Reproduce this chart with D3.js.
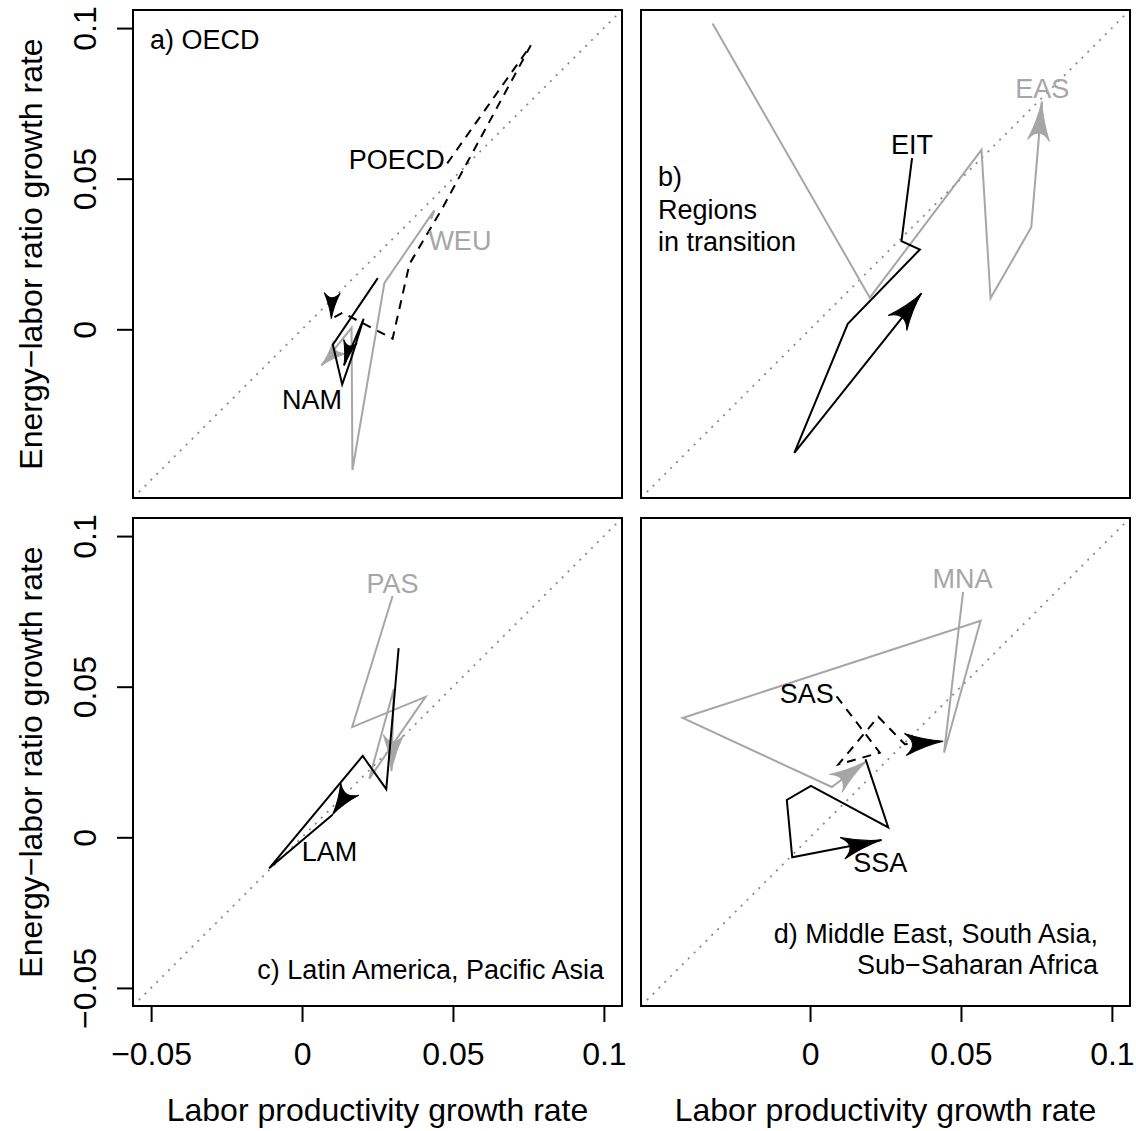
<!DOCTYPE html>
<html>
<head>
<meta charset="utf-8">
<script src="https://cdn.jsdelivr.net/npm/d3@7"></script>
<style>
body { margin: 0; background: #fff; }
text { font-family: "Liberation Sans", Arial, Helvetica, sans-serif; }
</style>
</head>
<body>
<svg width="1136" height="1131"></svg>
<script>
// ---- values (growth rates) ----
// panel a) OECD
const poecdX = [0.0481, 0.0758, 0.0465, 0.0356, 0.0300, 0.0134, 0.0097];
const poecdY = [0.0551, 0.0943, 0.0402, 0.0217, -0.0031, 0.0055, 0.0035];
const weuX = [0.0428, 0.0438, 0.0273, 0.0167, 0.0164, 0.0064];
const weuY = [0.0366, 0.0395, 0.0154, -0.0467, 0.0005, -0.0120];
const namX = [0.0251, 0.0102, 0.0133, 0.0164, 0.0204, 0.0139];
const namY = [0.0170, -0.0051, -0.0183, -0.0094, 0.0035, -0.0120];
// panel b) regions in transition
const easX = [-0.0323, 0.0198, 0.0568, 0.0598, 0.0733, 0.0768];
const easY = [0.1015, 0.0105, 0.0596, 0.0103, 0.0339, 0.0756];
const eitX = [0.0338, 0.0303, 0.0364, 0.0125, -0.0052, 0.0369];
const eitY = [0.0568, 0.0293, 0.0265, 0.0018, -0.0410, 0.0119];
// panel c) Latin America, Pacific Asia
const pasX = [0.0300, 0.0166, 0.0409, 0.0223, 0.0304, 0.0296];
const pasY = [0.0801, 0.0366, 0.0466, 0.0195, 0.0492, 0.0220];
const lamX = [0.0320, 0.0279, 0.0201, -0.0109, 0.0101];
const lamY = [0.0628, 0.0160, 0.0270, -0.0103, 0.0075];
// panel d) Middle East, South Asia, Sub-Saharan Africa
const mnaX = [0.0507, 0.0444, 0.0565, -0.0422, 0.0072, 0.0187];
const mnaY = [0.0815, 0.0281, 0.0719, 0.0396, 0.0167, 0.0253];
const sasX = [0.0088, 0.0231, 0.0094, 0.0226, 0.0314, 0.0441];
const sasY = [0.0468, 0.0281, 0.0242, 0.0400, 0.0309, 0.0319];
const ssaX = [0.0184, 0.0259, 0.0003, -0.0077, -0.0059, 0.0237];
const ssaY = [0.0259, 0.0033, 0.0171, 0.0124, -0.0066, -0.0009];

// ticks
const xTicksLeft = [-0.05, 0, 0.05, 0.1];
const xTicksRight = [0, 0.05, 0.1];
const yTicksTop = [0, 0.05, 0.1];
const yTicksBottom = [-0.05, 0, 0.05, 0.1];

const BLACK = "#000", GREY = "#a6a6a6";
const dom = [-0.056, 0.106];
const PW = 489, PH = 488;

const svg = d3.select("svg");

const panels = {
  a: {x0: 133, y0: 10},
  b: {x0: 641, y0: 10},
  c: {x0: 133, y0: 518},
  d: {x0: 641, y0: 518}
};
Object.entries(panels).forEach(([k, p]) => {
  p.sx = d3.scaleLinear().domain(dom).range([p.x0, p.x0 + PW]);
  p.sy = d3.scaleLinear().domain(dom).range([p.y0 + PH, p.y0]);
});

// series: which panel, style, arrow heading (deg, screen) and label spot (data units)
const series = [
  {p: "a", name: "POECD", xs: poecdX, ys: poecdY, col: BLACK, dash: true,  head: 92,  L: 26, W: 8,  lab: [0.0314, 0.0533]},
  {p: "a", name: "WEU",   xs: weuX,   ys: weuY,   col: GREY,  dash: false, head: 135, L: 26, W: 9,  lab: [0.0523, 0.0263]},
  {p: "a", name: "NAM",   xs: namX,   ys: namY,   col: BLACK, dash: false, head: 105, L: 25, W: 7,  lab: [0.0033, -0.0266]},
  {p: "b", name: "EAS",   xs: easX,   ys: easY,   col: GREY,  dash: false, head: -85, L: 39, W: 11, lab: [0.0769, 0.0767]},
  {p: "b", name: "EIT",   xs: eitX,   ys: eitY,   col: BLACK, dash: false, head: -51, L: 38, W: 12, lab: [0.0338, 0.0581]},
  {p: "c", name: "PAS",   xs: pasX,   ys: pasY,   col: GREY,  dash: false, head: 93,  L: 36, W: 10, lab: [0.0300, 0.0810]},
  {p: "c", name: "LAM",   xs: lamX,   ys: lamY,   col: BLACK, dash: false, head: 124, L: 31, W: 11, lab: [0.0091, -0.0077]},
  {p: "d", name: "MNA",   xs: mnaX,   ys: mnaY,   col: GREY,  dash: false, head: -36, L: 38, W: 11, lab: [0.0505, 0.0826]},
  {p: "d", name: "SAS",   xs: sasX,   ys: sasY,   col: BLACK, dash: true,  head: -5,  L: 38, W: 11, lab: [-0.0011, 0.0446]},
  {p: "d", name: "SSA",   xs: ssaX,   ys: ssaY,   col: BLACK, dash: false, head: -12, L: 40, W: 11, lab: [0.0233, -0.0116]}
];

function arrowPath(L, W) {
  return `M0,0Q${-0.5*L},${-0.25*W} ${-L},${-W}Q${-0.62*L},0 ${-L},${W}Q${-0.5*L},${0.25*W} 0,0Z`;
}

// panels: clip, diagonal, box
Object.entries(panels).forEach(([k, p]) => {
  svg.append("clipPath").attr("id", "clip-" + k)
    .append("rect").attr("x", p.x0).attr("y", p.y0).attr("width", PW).attr("height", PH);
  p.g = svg.append("g").attr("clip-path", `url(#clip-${k})`);
  p.g.append("line")
    .attr("x1", p.sx(dom[0])).attr("y1", p.sy(dom[0]))
    .attr("x2", p.sx(dom[1])).attr("y2", p.sy(dom[1]))
    .attr("stroke", "#8a8a8a").attr("stroke-width", 1.8)
    .attr("stroke-dasharray", "2 6.3");
});

series.forEach(s => {
  const p = panels[s.p];
  const pts = s.xs.map((x, i) => [x, s.ys[i]]);
  const line = d3.line().x(d => p.sx(d[0])).y(d => p.sy(d[1]));
  p.g.append("path").attr("d", line(pts))
    .attr("fill", "none").attr("stroke", s.col).attr("stroke-width", 2)
    .attr("stroke-linejoin", "miter").attr("stroke-dasharray", s.dash ? "9 7" : null);
  const last = pts[pts.length - 1];
  p.g.append("path").attr("d", arrowPath(s.L, s.W))
    .attr("fill", s.col).attr("stroke", s.col).attr("stroke-width", 1)
    .attr("transform", `translate(${p.sx(last[0])},${p.sy(last[1])}) rotate(${s.head})`);
  p.g.append("text").attr("x", p.sx(s.lab[0])).attr("y", p.sy(s.lab[1]))
    .attr("text-anchor", "middle").attr("font-size", 27).attr("fill", s.col)
    .text(s.name);
});

// panel captions
svg.append("text").attr("x", panels.a.x0 + 17).attr("y", 49).attr("font-size", 27).text("a) OECD");
[["b)", 186], ["Regions", 219], ["in transition", 251]].forEach(([t, y]) =>
  svg.append("text").attr("x", panels.b.x0 + 17).attr("y", y).attr("font-size", 27).text(t));
svg.append("text").attr("x", panels.c.x0 + PW - 18).attr("y", 979).attr("font-size", 27)
  .attr("text-anchor", "end").text("c) Latin America, Pacific Asia");
[["d) Middle East, South Asia,", 943], ["Sub\u2212Saharan Africa", 974]].forEach(([t, y]) =>
  svg.append("text").attr("x", panels.d.x0 + PW - 32).attr("y", y).attr("font-size", 27)
    .attr("text-anchor", "end").text(t));

// boxes
Object.values(panels).forEach(p => {
  svg.append("rect").attr("x", p.x0).attr("y", p.y0).attr("width", PW).attr("height", PH)
    .attr("fill", "none").attr("stroke", BLACK).attr("stroke-width", 2);
});

// axes
const fmt = d => d === 0 ? "0" : String(d).replace("-", "\u2212");

function yAxis(p, ticks) {
  const g = svg.append("g").attr("transform", `translate(${p.x0},0)`)
    .call(d3.axisLeft(p.sy).tickValues(ticks).tickFormat(fmt).tickSize(16).tickSizeOuter(0));
  g.select(".domain").remove();
  g.selectAll("line").attr("stroke-width", 2);
  g.selectAll("text").attr("x", 0).attr("dy", 0).attr("y", -37.5)
    .attr("transform", "rotate(-90)").attr("text-anchor", "middle")
    .attr("font-size", 32).attr("font-family", "Liberation Sans, Arial, sans-serif").attr("fill", BLACK);
  svg.append("text").attr("transform", `translate(42,${p.y0 + PH / 2}) rotate(-90)`)
    .attr("text-anchor", "middle").attr("font-size", 32)
    .text("Energy\u2212labor ratio growth rate");
}
function xAxis(p, ticks) {
  const g = svg.append("g").attr("transform", `translate(0,${p.y0 + PH})`)
    .call(d3.axisBottom(p.sx).tickValues(ticks).tickFormat(fmt).tickSize(16).tickSizeOuter(0));
  g.select(".domain").remove();
  g.selectAll("line").attr("stroke-width", 2);
  g.selectAll("text").attr("dy", 0).attr("y", 59)
    .attr("font-size", 32).attr("font-family", "Liberation Sans, Arial, sans-serif").attr("fill", BLACK);
  svg.append("text").attr("x", p.x0 + PW / 2).attr("y", 1121)
    .attr("text-anchor", "middle").attr("font-size", 32)
    .text("Labor productivity growth rate");
}
yAxis(panels.a, yTicksTop);
yAxis(panels.c, yTicksBottom);
xAxis(panels.c, xTicksLeft);
xAxis(panels.d, xTicksRight);
</script>
</body>
</html>
